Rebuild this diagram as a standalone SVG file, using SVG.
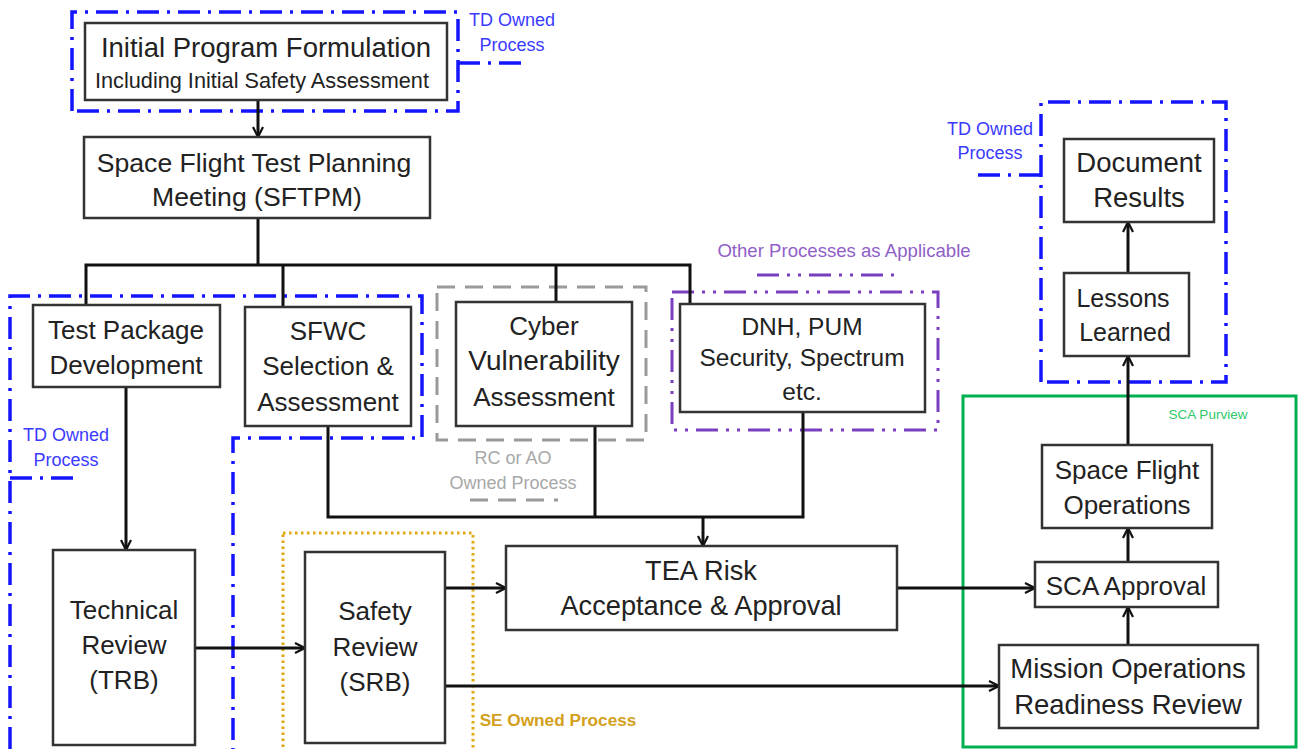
<svg xmlns="http://www.w3.org/2000/svg" width="1299" height="749" viewBox="0 0 1299 749">
<defs>
<style>
.box{fill:#fff;stroke:#333;stroke-width:2.5}
.t{font-family:"Liberation Sans",Arial,sans-serif;fill:#222;text-anchor:middle;font-size:26px}
.lbl{font-family:"Liberation Sans",Arial,sans-serif;text-anchor:middle;font-size:18px}
.blue{fill:none;stroke:#1414ff;stroke-width:3.5;stroke-dasharray:22 8 3 8}
.conn{fill:none;stroke:#111;stroke-width:3}
</style>
<marker id="arr" viewBox="0 0 12 12" refX="11" refY="6" markerWidth="12" markerHeight="12" markerUnits="userSpaceOnUse" orient="auto">
<path d="M1,1 L11,6 L1,11" fill="none" stroke="#111" stroke-width="2.2"/>
</marker>
</defs>
<rect width="1299" height="749" fill="#fff"/>

<g id="boundaries">
<path class="blue" d="M72,111 V12 H458 V111 H72 Z M458,63 H525"/>
<path class="blue" d="M10,749 V296 H422 V438 H233 V749 M10,478 H76"/>
<path class="blue" d="M1041,382 V102 H1226 V382 Z M978,175 H1041"/>
<rect x="437" y="287" width="209" height="153" fill="none" stroke="#9a9a9a" stroke-width="3" stroke-dasharray="18 10"/>
<path d="M470,500 H558" fill="none" stroke="#9a9a9a" stroke-width="3" stroke-dasharray="18 10"/>
<rect x="672" y="292" width="266" height="138" fill="none" stroke="#7a3fbf" stroke-width="3" stroke-dasharray="22 8 3 8 3 8"/>
<path d="M757,275 H900" fill="none" stroke="#7a3fbf" stroke-width="3" stroke-dasharray="22 8 3 8 3 8"/>
<rect x="283" y="533" width="190" height="220" fill="none" stroke="#e0a810" stroke-width="3" stroke-dasharray="2.5 3.5"/>
<rect x="963" y="396" width="333" height="351" fill="none" stroke="#00b050" stroke-width="3"/>
<text class="lbl" x="512" y="26" fill="#3a3aff">TD Owned</text>
<text class="lbl" x="512" y="51" fill="#3a3aff">Process</text>
<text class="lbl" x="66" y="441" fill="#3a3aff">TD Owned</text>
<text class="lbl" x="66" y="466" fill="#3a3aff">Process</text>
<text class="lbl" x="990" y="135" fill="#3a3aff">TD Owned</text>
<text class="lbl" x="990" y="159" fill="#3a3aff">Process</text>
<text class="lbl" x="513" y="464" fill="#a8a8a8">RC or AO</text>
<text class="lbl" x="513" y="489" fill="#a8a8a8">Owned Process</text>
<text class="lbl" x="844" y="257" fill="#9060c8" style="font-size:18.6px">Other Processes as Applicable</text>
<text class="lbl" x="558" y="726" fill="#d4a020" style="font-size:17.2px;font-weight:bold">SE Owned Process</text>
<text class="lbl" x="1208" y="419" fill="#2ec86a" style="font-size:13.5px">SCA Purview</text>
</g>

<g id="connectors">
<path class="conn" d="M258,100 V137" marker-end="url(#arr)"/>
<path class="conn" d="M258,218 V265 M86,305 V265 H690 V304 M283,265 V307 M556,265 V302"/>
<path class="conn" d="M126,387 V550" marker-end="url(#arr)"/>
<path class="conn" d="M328,426 V517 H803 V412 M595,426 V517"/>
<path class="conn" d="M703,517 V546" marker-end="url(#arr)"/>
<path class="conn" d="M195,648 H305" marker-end="url(#arr)"/>
<path class="conn" d="M445,588 H506" marker-end="url(#arr)"/>
<path class="conn" d="M445,686 H999" marker-end="url(#arr)"/>
<path class="conn" d="M897,588 H1035" marker-end="url(#arr)"/>
<path class="conn" d="M1128,645 V607" marker-end="url(#arr)"/>
<path class="conn" d="M1128,562 V528" marker-end="url(#arr)"/>
<path class="conn" d="M1128,445 V356" marker-end="url(#arr)"/>
<path class="conn" d="M1128,273 V222" marker-end="url(#arr)"/>
</g>

<g id="n-initial"><rect class="box" x="85" y="23" width="362" height="77"/>
<text class="t" x="266" y="57" style="font-size:27.5px">Initial Program Formulation</text>
<text class="t" x="262" y="88" style="font-size:21.7px">Including Initial Safety Assessment</text></g>

<g id="n-sftpm"><rect class="box" x="84" y="137" width="346" height="81"/>
<text class="t" x="254" y="172" style="font-size:26.6px">Space Flight Test Planning</text>
<text class="t" x="257" y="206" style="font-size:26.6px">Meeting (SFTPM)</text></g>

<g id="n-testpkg"><rect class="box" x="33" y="305" width="187" height="82"/>
<text class="t" x="126" y="339">Test Package</text>
<text class="t" x="126" y="374">Development</text></g>

<g id="n-sfwc"><rect class="box" x="245" y="307" width="166" height="119"/>
<text class="t" x="328" y="340">SFWC</text>
<text class="t" x="328" y="375">Selection &amp;</text>
<text class="t" x="328" y="411">Assessment</text></g>

<g id="n-cyber"><rect class="box" x="456" y="302" width="176" height="124"/>
<text class="t" x="544" y="335">Cyber</text>
<text class="t" x="544" y="370" style="font-size:28px">Vulnerability</text>
<text class="t" x="544" y="406">Assessment</text></g>

<g id="n-dnh"><rect class="box" x="680" y="304" width="245" height="108"/>
<text class="t" x="802" y="335" style="font-size:24.5px">DNH, PUM</text>
<text class="t" x="802" y="366" style="font-size:24.5px">Security, Spectrum</text>
<text class="t" x="802" y="400" style="font-size:24.5px">etc.</text></g>

<g id="n-trb"><rect class="box" x="53" y="550" width="142" height="195"/>
<text class="t" x="124" y="619">Technical</text>
<text class="t" x="124" y="654">Review</text>
<text class="t" x="124" y="689">(TRB)</text></g>

<g id="n-srb"><rect class="box" x="305" y="552" width="140" height="191"/>
<text class="t" x="375" y="620">Safety</text>
<text class="t" x="375" y="656">Review</text>
<text class="t" x="375" y="691">(SRB)</text></g>

<g id="n-tea"><rect class="box" x="506" y="546" width="391" height="84"/>
<text class="t" x="701" y="580" style="font-size:27.2px">TEA Risk</text>
<text class="t" x="701" y="615" style="font-size:27.2px">Acceptance &amp; Approval</text></g>

<g id="n-doc"><rect class="box" x="1064" y="139" width="150" height="83"/>
<text class="t" x="1139" y="172" style="font-size:27.5px">Document</text>
<text class="t" x="1139" y="207" style="font-size:27.5px">Results</text></g>

<g id="n-lessons"><rect class="box" x="1064" y="273" width="125" height="83"/>
<text class="t" x="1123" y="307" style="font-size:25px">Lessons</text>
<text class="t" x="1125" y="341" style="font-size:25px">Learned</text></g>

<g id="n-sfo"><rect class="box" x="1042" y="445" width="170" height="83"/>
<text class="t" x="1127" y="479">Space Flight</text>
<text class="t" x="1127" y="514">Operations</text></g>

<g id="n-sca"><rect class="box" x="1035" y="562" width="183" height="45"/>
<text class="t" x="1126" y="595">SCA Approval</text></g>

<g id="n-morr"><rect class="box" x="999" y="645" width="259" height="83"/>
<text class="t" x="1128" y="678" style="font-size:27.5px">Mission Operations</text>
<text class="t" x="1128" y="714" style="font-size:27.5px">Readiness Review</text></g>
</svg>
